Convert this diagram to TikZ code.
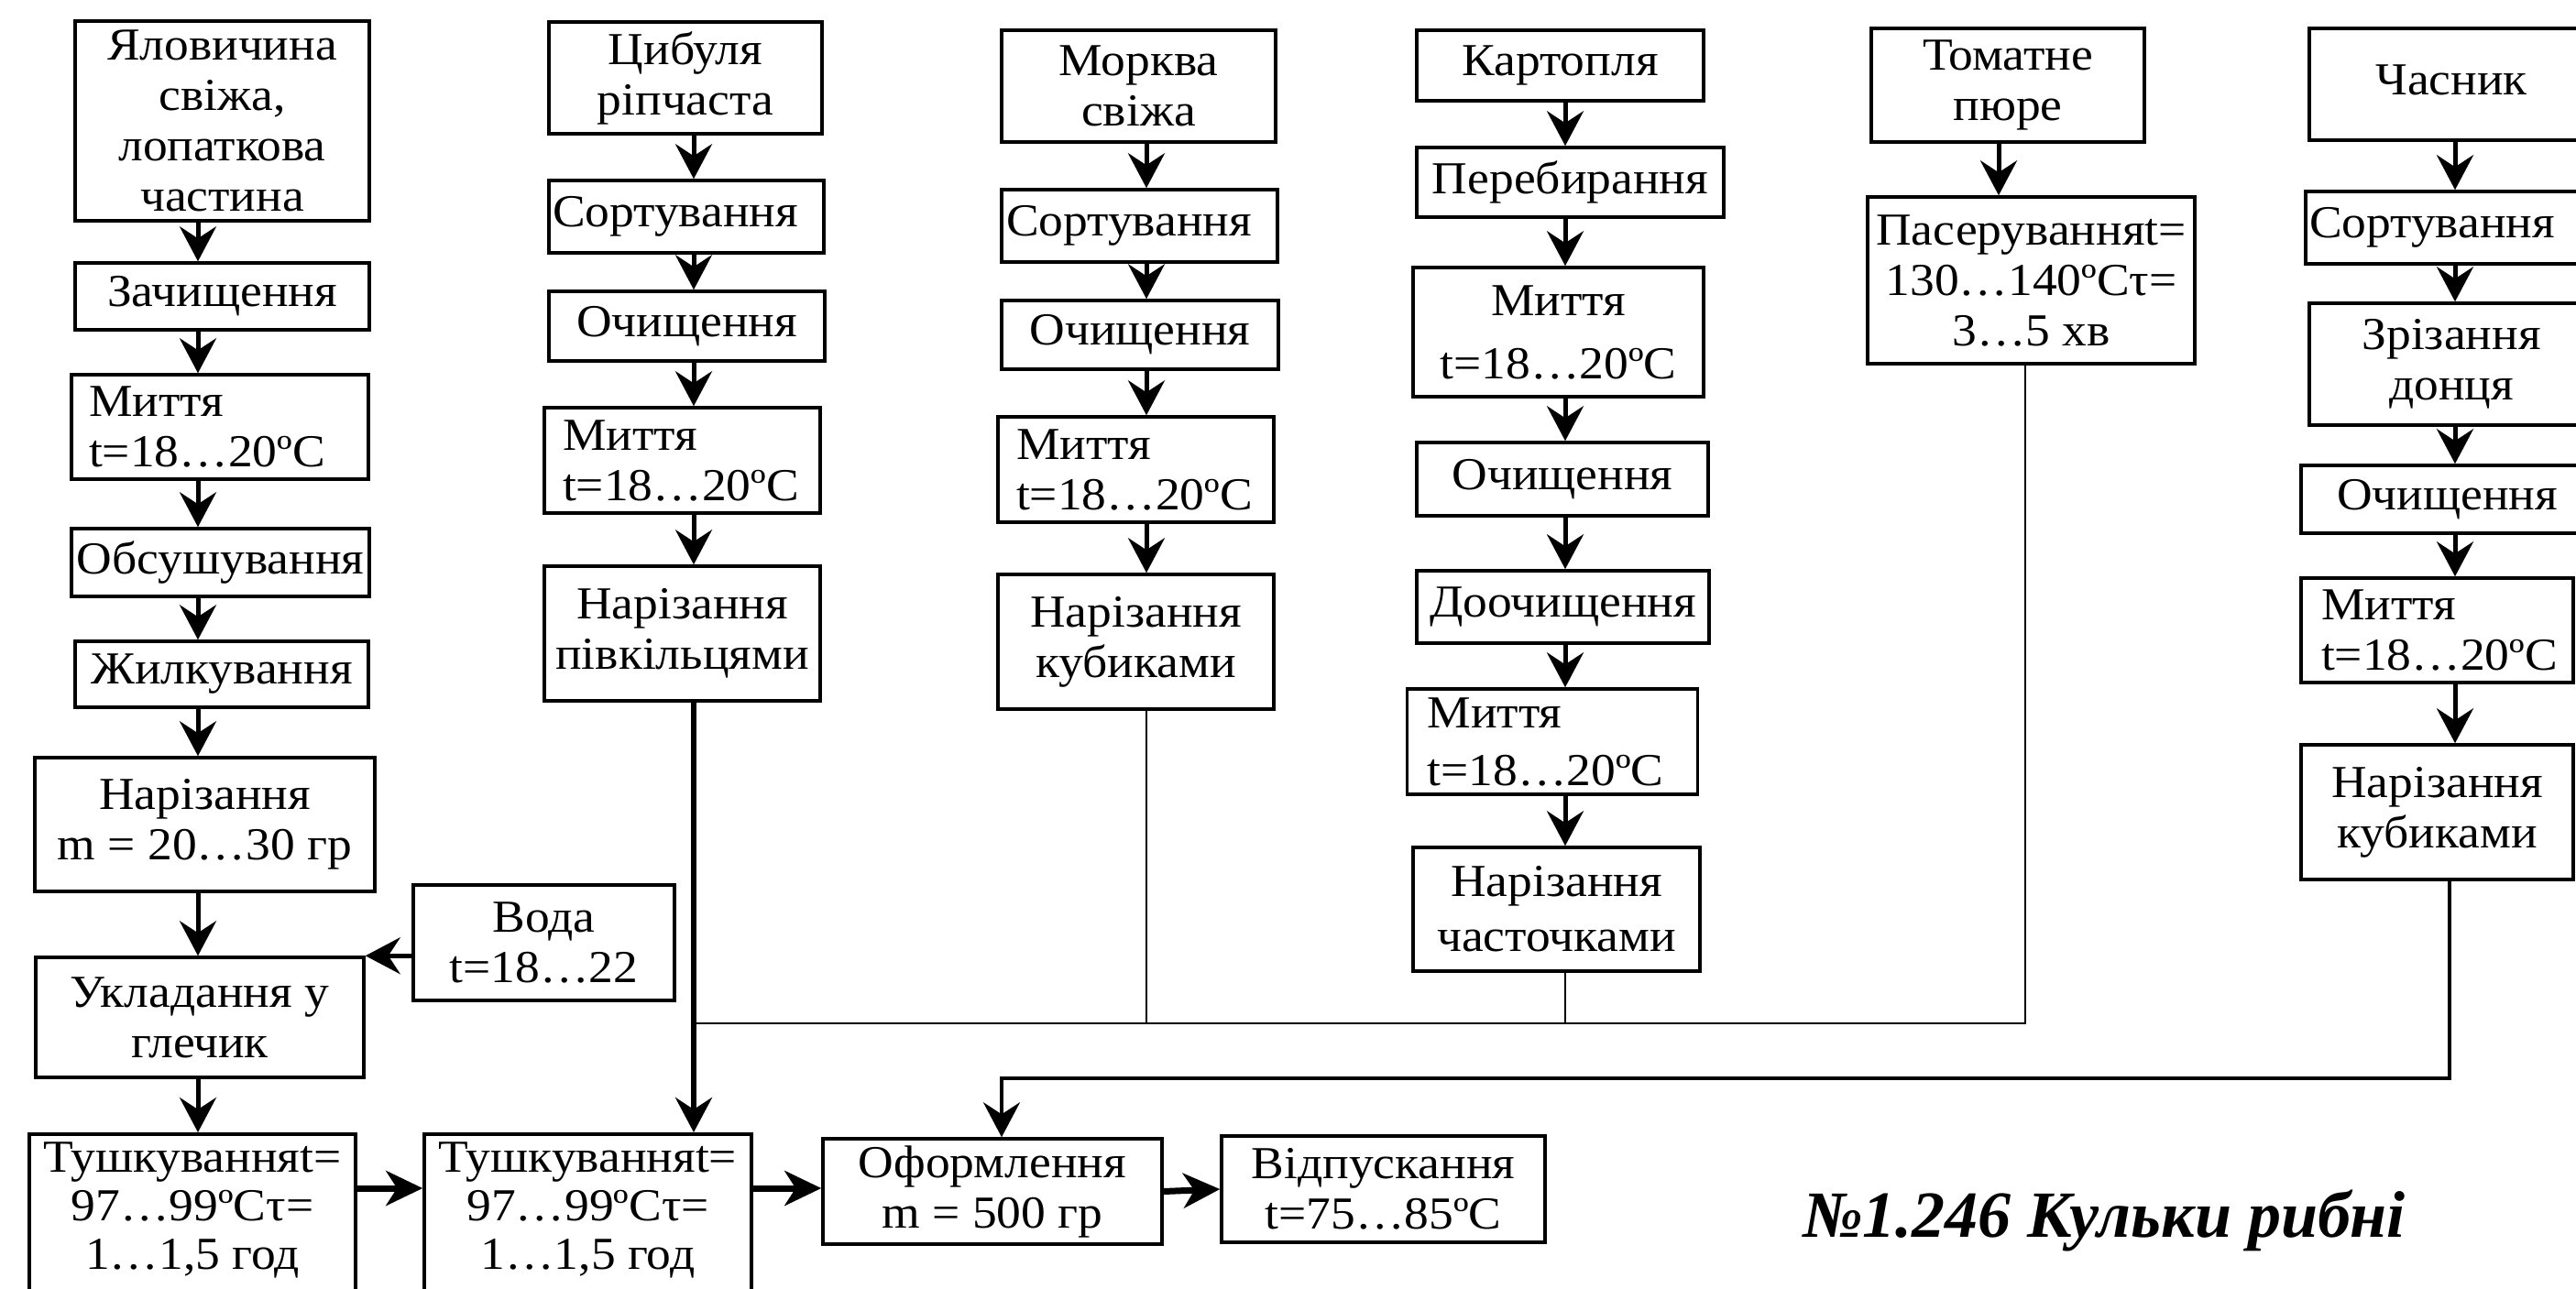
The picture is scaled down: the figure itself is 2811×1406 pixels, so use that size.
\documentclass[tikz,border=0pt]{standalone}
\usepackage{fontspec}
\setmainfont{Liberation Serif}[FakeStretch=1.07]
\newfontfamily\titlefont{Liberation Serif}
\usetikzlibrary{arrows.meta}
\tikzset{
  box/.style={draw, line width=3.5pt, inner sep=0pt, align=center},
  lbox/.style={box, align=left},
  arr/.style={line width=5pt, -{Stealth[length=38pt,width=40pt,inset=13pt]}},
  oarr/.style={line width=6pt, -{Stealth[length=38pt,width=40pt,inset=13pt]}},
  harr/.style={line width=7pt, -{Stealth[length=40pt,width=38pt,inset=12pt]}},
  garr/.style={line width=4pt, -{Stealth[length=38pt,width=40pt,inset=13pt]}},
  conn/.style={line width=2.5pt},
  ls/.style={font=\fontsize{50}{#1}\selectfont}
}
\begin{document}
\begin{tikzpicture}[x=1pt,y=-1pt,font=\fontsize{50}{55}\selectfont]
\useasboundingbox (0,0) rectangle (2811,1406);
% column 1
\node[box, minimum width=321, minimum height=218] (A1) at (242.5,132) {Яловичина\\свіжа,\\лопаткова\\частина};
\node[box, minimum width=321, minimum height=73] (A2) at (242.5,323.5) {Зачищення};
\node[lbox, inner xsep=19pt, text width=286pt, minimum height=114] (A3) at (240,466) {Миття\\t=18…20ºC};
\node[box, minimum width=325, minimum height=74] (A4) at (240.5,614) {Обсушування};
\node[box, minimum width=320, minimum height=72] (A5) at (242,736) {Жилкування};
\node[box, minimum width=371, minimum height=146] (A6) at (223.5,900) {Нарізання\\ m = 20…30 гр};
\node[box, minimum width=358, minimum height=131] (A7) at (218,1110.5) {Укладання у\\глечик};
\node[box, anchor=north] (A8) at (210,1236) {\parbox[t][230pt][t]{356pt}{\centering\fontsize{50}{53}\selectfont\rule{0pt}{42pt}Тушкуванняt=\\97…99ºCτ=\\1…1,5 год}};
\node[box, minimum width=285, minimum height=126] (W) at (593.5,1029) {Вода\\t=18…22};
% column 2
\node[box, minimum width=298, minimum height=122] (B1) at (748,85) {Цибуля\\ріпчаста};
\node[lbox, inner xsep=4pt, text width=292pt, minimum height=79] (B2) at (749,236.5) {Сортування};
\node[box, minimum width=301, minimum height=76] (B3) at (749.5,356) {Очищення};
\node[lbox, inner xsep=20pt, text width=261pt, minimum height=115] (B4) at (744.5,502.5) {Миття\\t=18…20ºC};
\node[box, minimum width=301, minimum height=147] (B5) at (744.5,691.5) {Нарізання\\півкільцями};
\node[box, anchor=north] (T2) at (641.5,1236) {\parbox[t][230pt][t]{357pt}{\centering\fontsize{50}{53}\selectfont\rule{0pt}{42pt}Тушкуванняt=\\97…99ºCτ=\\1…1,5 год}};
% column 3
\node[box, minimum width=299, minimum height=122] (C1) at (1242.5,94) {Морква\\свіжа};
\node[lbox, inner xsep=5pt, text width=291pt, minimum height=79] (C2) at (1243.5,246.5) {Сортування};
\node[box, minimum width=302, minimum height=75] (C3) at (1244,365.5) {Очищення};
\node[lbox, inner xsep=20pt, text width=261pt, minimum height=115] (C4) at (1239.5,512.5) {Миття\\t=18…20ºC};
\node[box, minimum width=301, minimum height=147] (C5) at (1239.5,700.5) {Нарізання\\кубиками};
% column 4
\node[box, minimum width=313, minimum height=77] (D1) at (1702.5,71.5) {Картопля};
\node[box, minimum width=335, minimum height=76] (D2) at (1713.5,199) {Перебирання};
\node[box, ls=69, minimum width=317, minimum height=141] (D3) at (1700.5,362.5) {Миття\\t=18…20ºC};
\node[box, minimum width=318, minimum height=80] (D4) at (1705,523) {Очищення};
\node[box, minimum width=319, minimum height=79] (D5) at (1705.5,662.5) {Доочищення};
\node[lbox, ls=63, inner xsep=22pt, text width=273pt, minimum height=115] (D6) at (1694,809.5) {Миття\\t=18…20ºC};
\node[box, ls=60, minimum width=313, minimum height=135] (D7) at (1698.5,992.5) {Нарізання\\часточками};
% column 5
\node[box, minimum width=298, minimum height=124] (E1) at (2191,93) {Томатне\\пюре};
\node[box, minimum width=357, minimum height=182] (E2) at (2216.5,306) {Пасеруванняt=\\130…140ºCτ=\\3…5 хв};
% column 6
\node[box, minimum width=310, minimum height=122] (F1) at (2675,92) {\raisebox{9pt}{Часник}};
\node[lbox, inner xsep=4pt, text width=306pt, minimum height=79] (F2) at (2673,248.5) {Сортування};
\node[box, minimum width=310, minimum height=133] (F3) at (2675,397.5) {Зрізання\\донця};
\node[box, minimum width=319, minimum height=74] (F4) at (2670.5,545) {Очищення};
\node[lbox, inner xsep=22pt, text width=253pt, minimum height=114] (F5) at (2659.5,688) {Миття\\t=18…20ºC};
\node[box, minimum width=297, minimum height=147] (F6) at (2659.5,886.5) {Нарізання\\кубиками};
% bottom
\node[box, minimum width=370, minimum height=115] (O) at (1083,1300.5) {Оформлення\\m = 500 гр};
\node[box, minimum width=353, minimum height=116] (V) at (1509.5,1298) {Відпускання\\t=75…85ºC};
\node[font=\titlefont\bfseries\itshape\fontsize{72}{80}\selectfont, anchor=base] (title) at (2296,1350) {№1.246 Кульки рибні};
% helper coordinates
\coordinate (x1) at (216,0);
\coordinate (x2) at (757,0);
\coordinate (x3) at (1251,0);
\coordinate (x4) at (1708,0);
\coordinate (x5) at (2181,0);
\coordinate (x6) at (2679,0);
\coordinate (j1) at (757,1117);
\coordinate (j2) at (2210,1117);
\coordinate (g1) at (2673,1177);
\coordinate (g2) at (1093,1177);
\coordinate (h1) at (0,1297);
% column 1 arrows
\draw[arr] (A1.south -| x1) -- (A2.north -| x1);
\draw[arr] (A2.south -| x1) -- (A3.north -| x1);
\draw[arr] (A3.south -| x1) -- (A4.north -| x1);
\draw[arr] (A4.south -| x1) -- (A5.north -| x1);
\draw[arr] (A5.south -| x1) -- (A6.north -| x1);
\draw[arr] (A6.south -| x1) -- (A7.north -| x1);
\draw[arr] (A7.south -| x1) -- (A8.north -| x1);
\draw[arr] (W.west |- A7.north east) -- (A7.north east);
% column 2
\draw[arr] (B1.south -| x2) -- (B2.north -| x2);
\draw[arr] (B2.south -| x2) -- (B3.north -| x2);
\draw[arr] (B3.south -| x2) -- (B4.north -| x2);
\draw[arr] (B4.south -| x2) -- (B5.north -| x2);
\draw[oarr] (B5.south -| x2) -- (T2.north -| x2);
% column 3
\draw[arr] (C1.south -| x3) -- (C2.north -| x3);
\draw[arr] (C2.south -| x3) -- (C3.north -| x3);
\draw[arr] (C3.south -| x3) -- (C4.north -| x3);
\draw[arr] (C4.south -| x3) -- (C5.north -| x3);
\draw[conn] (C5.south -| x3) -- (x3 |- j1);
% column 4
\draw[arr] (D1.south -| x4) -- (D2.north -| x4);
\draw[arr] (D2.south -| x4) -- (D3.north -| x4);
\draw[arr] (D3.south -| x4) -- (D4.north -| x4);
\draw[arr] (D4.south -| x4) -- (D5.north -| x4);
\draw[arr] (D5.south -| x4) -- (D6.north -| x4);
\draw[arr] (D6.south -| x4) -- (D7.north -| x4);
\draw[conn] (D7.south -| x4) -- (x4 |- j1);
% column 5
\draw[arr] (E1.south -| x5) -- (E2.north -| x5);
\draw[conn] (E2.south -| j2) -- (j2) -- (j1);
% column 6
\draw[arr] (F1.south -| x6) -- (F2.north -| x6);
\draw[arr] (F2.south -| x6) -- (F3.north -| x6);
\draw[arr] (F3.south -| x6) -- (F4.north -| x6);
\draw[arr] (F4.south -| x6) -- (F5.north -| x6);
\draw[arr] (F5.south -| x6) -- (F6.north -| x6);
\draw[garr] (F6.south -| g1) -- (g1) -- (g2) -- (O.north -| g2);
% bottom row
\draw[harr] (A8.east |- h1) -- (T2.west |- h1);
\draw[harr] (T2.east |- h1) -- (O.west |- h1);
\draw[harr] (O.east) -- (V.west);
\end{tikzpicture}
\end{document}
